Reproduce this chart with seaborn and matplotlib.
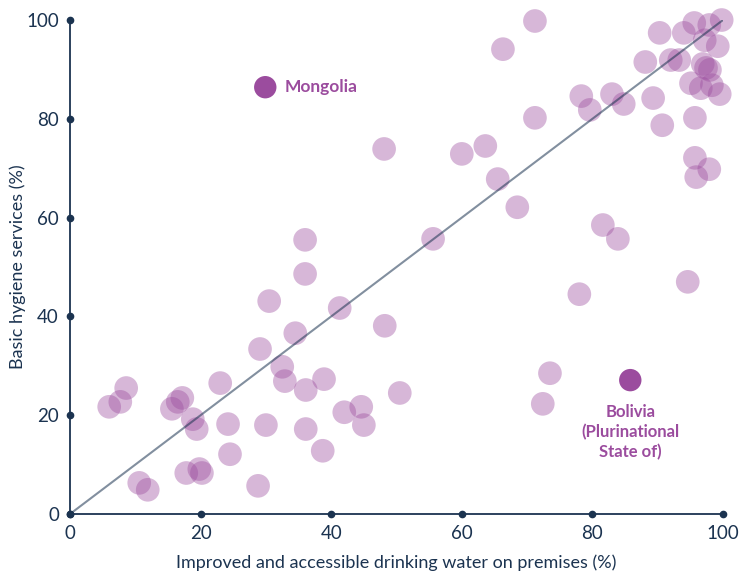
import pandas as pd
import matplotlib.pyplot as plt
import seaborn as sns

# Country values (%)
water = [6.0, 7.7, 8.6, 10.6, 11.9, 15.6, 16.5, 17.2, 17.8, 18.8, 19.4, 19.8, 20.2,
         23.0, 24.2, 24.5, 28.8, 29.1, 30.5, 30.0, 32.5, 32.9, 34.5, 36.0, 36.0,
         36.1, 36.1, 38.7, 38.9, 41.3, 42.0, 44.6, 45.0, 48.1, 48.2, 50.5, 55.6,
         60.0, 63.6, 65.5, 66.3, 68.5, 71.2, 71.2, 72.4, 73.5, 78.0, 78.3, 79.6,
         81.6, 83.0, 83.9, 84.8, 88.1, 89.3, 90.3, 90.7, 92.0, 93.3, 94.0, 94.6,
         95.1, 95.6, 95.7, 95.7, 95.9, 96.6, 96.9, 97.2, 97.4, 98.0, 97.9, 97.9,
         98.3, 99.2, 99.5, 99.8]
hygiene = [21.7, 22.7, 25.5, 6.3, 4.9, 21.3, 22.7, 23.5, 8.3, 19.2, 17.2, 9.1, 8.3,
           26.5, 18.2, 12.1, 5.7, 33.4, 43.1, 18.0, 29.8, 26.9, 36.6, 55.5, 48.6,
           25.1, 17.2, 12.8, 27.3, 41.7, 20.6, 21.7, 18.0, 73.9, 38.1, 24.5, 55.7,
           72.9, 74.5, 67.8, 94.1, 62.1, 99.8, 80.2, 22.3, 28.5, 44.5, 84.6, 81.8,
           58.5, 85.0, 55.7, 83.0, 91.5, 84.2, 97.4, 78.7, 91.9, 91.9, 97.4, 47.0,
           87.2, 99.4, 72.1, 80.2, 68.2, 86.2, 91.1, 95.9, 90.3, 89.9, 69.8, 99.0,
           86.8, 94.7, 85.0, 100.0]

highlight_names = ['Mongolia', 'Bolivia\n(Plurinational\nState of)']
highlight_water = [29.9, 85.8]
highlight_hygiene = [86.4, 27.1]

ticks = [0, 20, 40, 60, 80, 100]

df = pd.DataFrame({'water': water, 'hygiene': hygiene})
hl = pd.DataFrame({'name': highlight_names, 'water': highlight_water,
                   'hygiene': highlight_hygiene})

purple = '#9b4c9e'
navy = '#1b3350'

sns.set_style('white')
plt.rcParams['font.family'] = ['Lato', 'DejaVu Sans']

fig = plt.figure(figsize=(7.41, 5.72), dpi=100)
ax = fig.add_axes([0.0945, 0.1014, 0.8812, 0.8636])

sns.scatterplot(data=df, x='water', y='hygiene', ax=ax, s=290, color=purple,
                alpha=0.4, edgecolor='none', clip_on=False, zorder=2)
sns.scatterplot(data=hl, x='water', y='hygiene', ax=ax, s=260, color=purple,
                alpha=1.0, edgecolor='none', clip_on=False, zorder=3)

# 1:1 reference line
ax.plot([0, 100], [0, 100], color=navy, alpha=0.55, lw=1.5, zorder=4)

# labels for highlighted countries
ax.text(highlight_water[0] + 2.9, highlight_hygiene[0], highlight_names[0],
        color=purple, fontsize=12.5, fontweight='bold', va='center', ha='left')
ax.text(highlight_water[1], highlight_hygiene[1] - 4.8, highlight_names[1],
        color=purple, fontsize=12, fontweight='bold', va='top', ha='center',
        linespacing=1.3)

ax.set_xlim(0, 100)
ax.set_ylim(0, 100)
ax.set_xticks(ticks)
ax.set_yticks(ticks)
ax.set_xlabel('Improved and accessible drinking water on premises (%)',
              fontsize=13, color=navy, labelpad=9)
ax.set_ylabel('Basic hygiene services (%)', fontsize=13, color=navy, labelpad=0)

for side in ['top', 'right']:
    ax.spines[side].set_visible(False)
for side in ['left', 'bottom']:
    ax.spines[side].set_color(navy)
    ax.spines[side].set_linewidth(1.3)
    ax.spines[side].set_zorder(1)

ax.tick_params(axis='both', colors=navy, labelsize=13.5, length=0)
ax.tick_params(axis='x', pad=8)
ax.tick_params(axis='y', pad=8)

# dot markers at each tick on both axes
ax.plot(ticks, [0] * len(ticks), 'o', color=navy, ms=4.5, clip_on=False, zorder=5)
ax.plot([0] * len(ticks), ticks, 'o', color=navy, ms=4.5, clip_on=False, zorder=5)

plt.savefig('out.png', dpi=100)
